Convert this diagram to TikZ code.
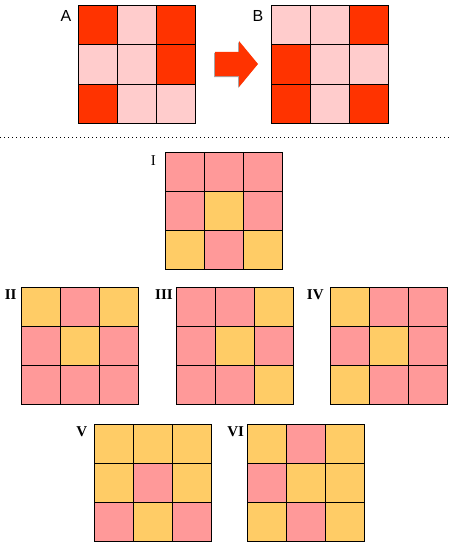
\documentclass[tikz,border=0pt]{standalone}
\usepackage{fontspec}
\setmainfont{Liberation Serif}
\newfontfamily\labfont{Liberation Sans}
\definecolor{rd}{HTML}{FF3300}
\definecolor{pk}{HTML}{FFCCCC}
\definecolor{sm}{HTML}{FF9999}
\definecolor{yl}{HTML}{FFCC66}
\newcommand\mygrid[4]{%
  \foreach \c [count=\i from 0] in {#4} {
    \pgfmathtruncatemacro\col{mod(\i,3)}
    \pgfmathtruncatemacro\row{\i/3}
    \node[cell,fill=\c] (#1-\i) at (#2+\col*39, #3+\row*39) {};
  }}
\begin{document}
\begin{tikzpicture}[x=1pt,y=-1pt,
  cell/.style={draw=black,line width=1pt,minimum size=39pt,inner sep=0pt,outer sep=0pt,anchor=north west},
  sanslab/.style={font=\labfont\fontsize{16}{16}\selectfont,inner sep=0pt},
  romlab/.style={font=\fontsize{15}{15}\selectfont\bfseries,inner sep=0pt},
  romlabthin/.style={font=\fontsize{15}{15}\selectfont,inner sep=0pt}]
\useasboundingbox (0,0) rectangle (450,551);
\fill[white] (0,0) rectangle (450,551);
% top grids
\mygrid{A}{78}{6}{rd,pk,rd,pk,pk,rd,rd,pk,pk}
\mygrid{B}{271.5}{6}{pk,pk,rd,rd,pk,pk,rd,pk,rd}
\node[sanslab] (labA) at (66,15.5) {A};
\node[sanslab] (labB) at (258,15.5) {B};
% arrow
\fill[gray!70] (214,53) -- (238,53) -- (238,42) -- (257,64.5) -- (238,88) -- (238,77) -- (214,77) -- cycle;
\fill[rd] (215,52) -- (239,52) -- (239,41) -- (258,64) -- (239,87) -- (239,76) -- (215,76) -- cycle;
% dotted separator
\coordinate (d1) at (0,137.5);
\coordinate (d2) at (450,137.5);
\draw[line width=1pt,dash pattern=on 1pt off 3pt] (d1) -- (d2);
% lower grids
\mygrid{G1}{165.5}{152.5}{sm,sm,sm,sm,yl,sm,yl,sm,yl}
\mygrid{G2}{21.5}{287.5}{yl,sm,yl,sm,yl,sm,sm,sm,sm}
\mygrid{G3}{176.5}{287.5}{sm,sm,yl,sm,yl,sm,sm,sm,yl}
\mygrid{G4}{330}{287.5}{yl,sm,sm,sm,yl,sm,yl,sm,sm}
\mygrid{G5}{94.5}{424.5}{yl,yl,yl,yl,sm,yl,sm,yl,sm}
\mygrid{G6}{247.5}{424.5}{yl,sm,yl,sm,yl,yl,yl,sm,yl}
\node[romlabthin] (l1) at (153.3,160.7) {I};
\node[romlab] (l2) at (10.7,295) {II};
\node[romlab] (l3) at (164,295) {III};
\node[romlab] (l4) at (315.3,295) {IV};
\node[romlab] (l5) at (81.7,432) {V};
\node[romlab] (l6) at (235.7,432) {VI};
\end{tikzpicture}
\end{document}
